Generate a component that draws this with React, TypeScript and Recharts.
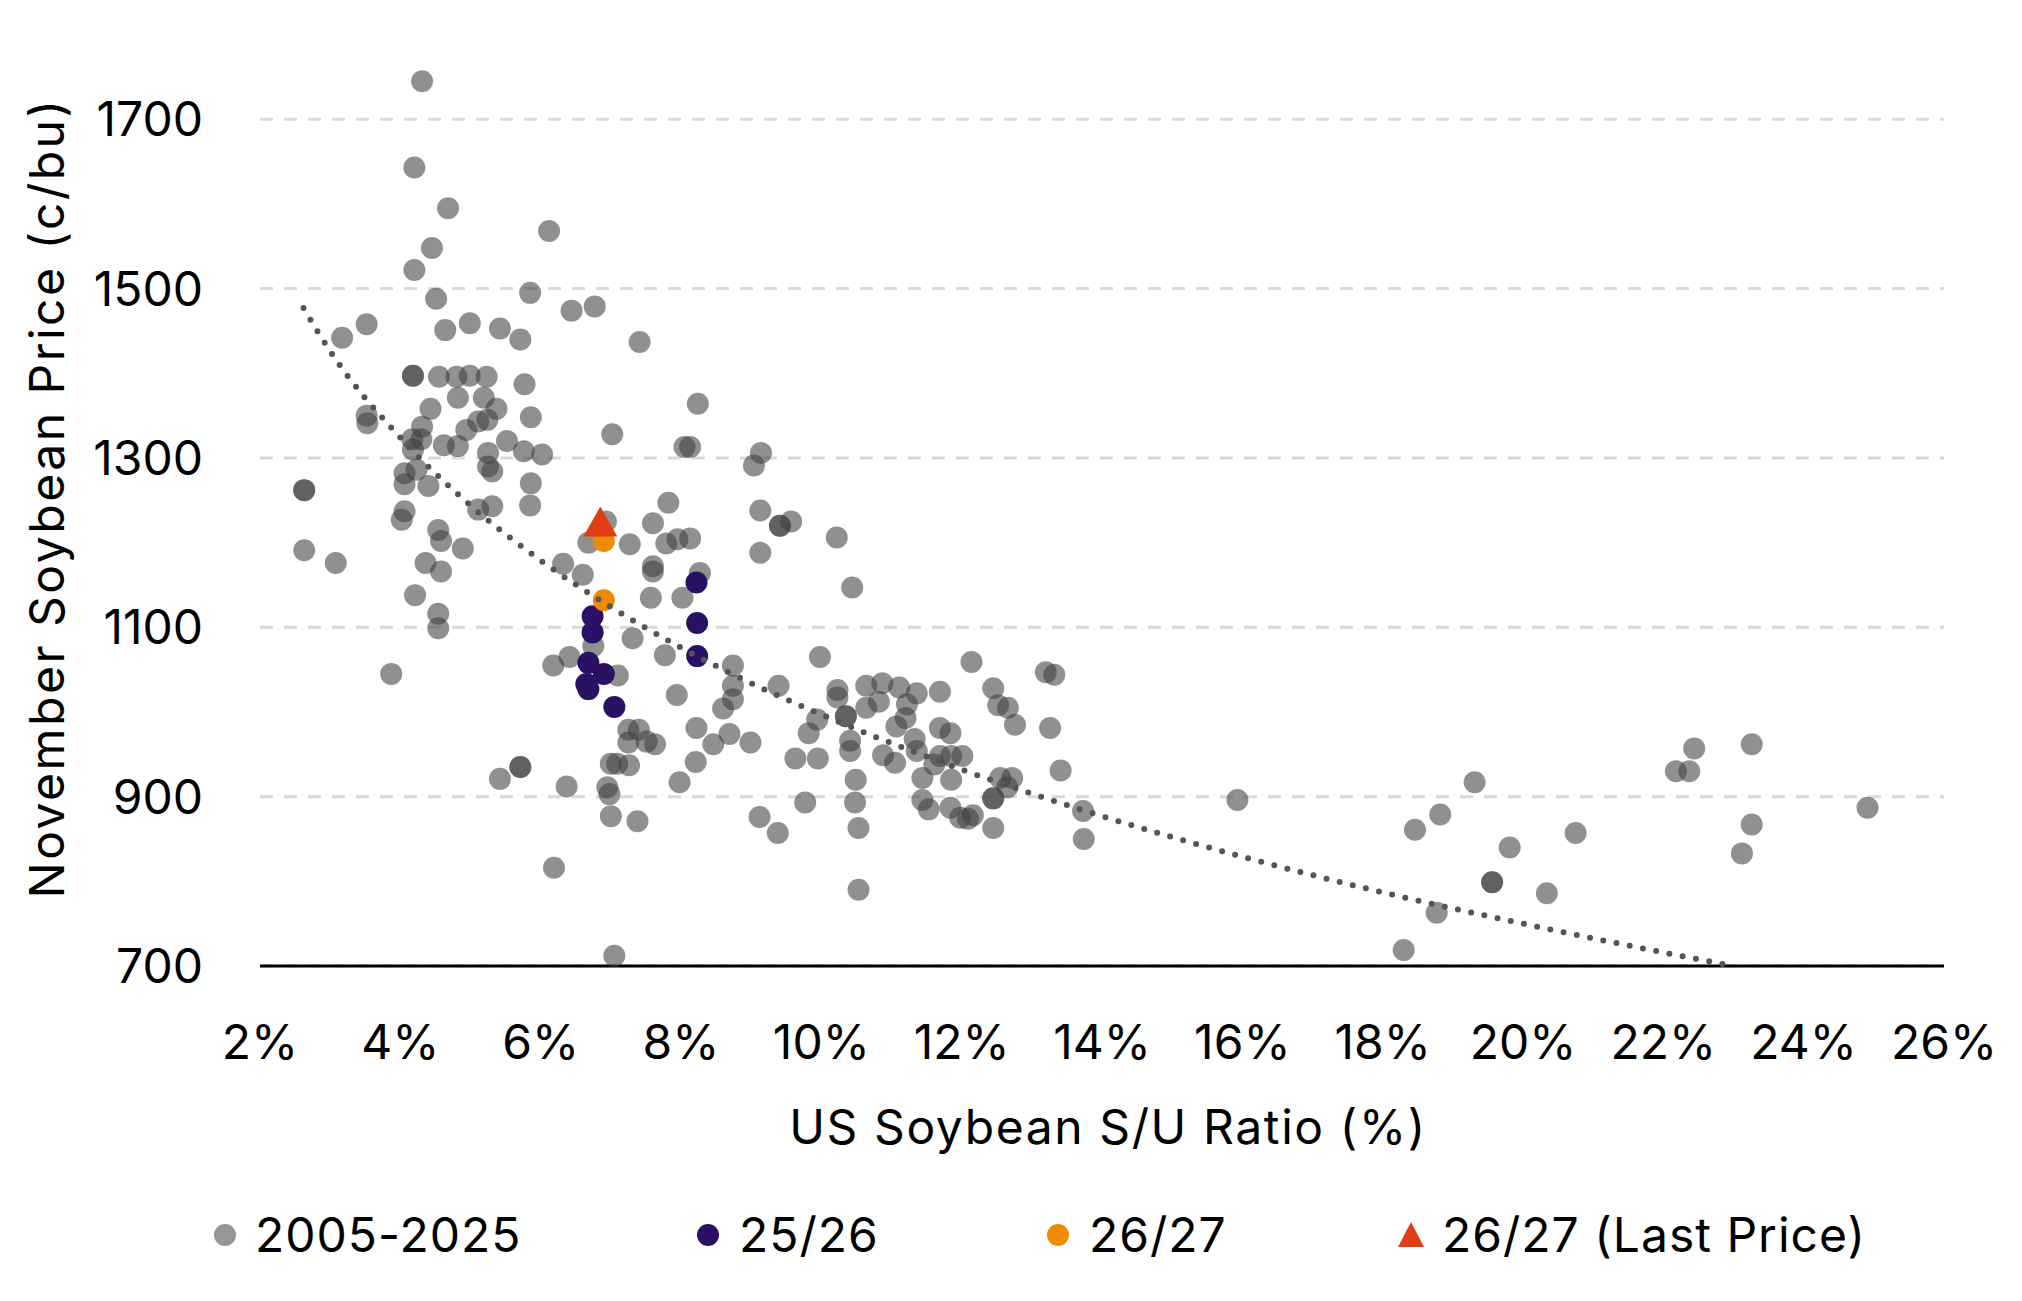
import React from "react";
import {
  ScatterChart,
  Scatter,
  XAxis,
  YAxis,
  CartesianGrid,
} from "recharts";

// US soybean stocks-to-use (%) vs November soybean price (c/bu)
const history2005to2025: [number, number][] = [
  [4.31, 1745], [4.2, 1643], [4.68, 1595], [6.12, 1568], [4.45, 1548], [4.2, 1522],
  [4.51, 1488], [5.85, 1495], [6.44, 1474], [6.77, 1479], [3.17, 1442], [3.52, 1458],
  [4.64, 1451], [4.99, 1459], [5.42, 1453], [5.71, 1440], [7.41, 1437], [4.18, 1397],
  [4.18, 1397], [4.55, 1396], [4.8, 1396], [4.99, 1397], [5.23, 1396], [5.77, 1387],
  [4.82, 1371], [5.19, 1371], [5.37, 1358], [4.43, 1358], [5.86, 1348], [8.24, 1364],
  [3.52, 1350], [3.53, 1341], [4.31, 1337], [4.17, 1322], [4.3, 1322], [4.94, 1333],
  [5.11, 1343], [5.24, 1345], [4.62, 1315], [4.82, 1314], [5.52, 1320], [5.76, 1308],
  [6.02, 1304], [5.25, 1306], [7.02, 1328], [8.05, 1313], [8.13, 1313], [9.14, 1306],
  [9.04, 1291], [4.18, 1310],
  [2.63, 1262], [2.63, 1262], [4.06, 1282], [4.23, 1286], [4.06, 1269], [4.4, 1267],
  [4.06, 1237], [4.02, 1227], [4.54, 1215], [4.58, 1202], [4.89, 1193], [2.63, 1191],
  [3.08, 1176], [4.36, 1176], [4.58, 1166], [4.21, 1138], [4.54, 1116], [4.54, 1099],
  [3.87, 1045], [5.25, 1290], [5.31, 1284], [5.86, 1270], [5.85, 1244], [5.11, 1239],
  [5.31, 1243], [9.13, 1238], [9.13, 1188], [7.82, 1247], [7.6, 1223], [6.93, 1225],
  [6.68, 1200], [7.27, 1198], [7.79, 1199], [7.95, 1204], [8.13, 1205], [7.6, 1172],
  [7.6, 1166], [8.27, 1164], [7.57, 1135], [8.02, 1135], [6.32, 1175], [6.6, 1162],
  [6.75, 1078], [6.41, 1065], [6.18, 1055], [7.1, 1043], [7.31, 1087], [7.77, 1067],
  [8.74, 1055], [8.74, 1031], [8.74, 1015], [8.6, 1004], [7.94, 1020], [8.22, 981],
  [8.46, 962], [8.69, 974], [8.99, 964], [7.25, 979], [7.4, 979], [7.25, 964],
  [7.51, 965], [7.63, 962], [7.0, 939], [7.09, 939], [7.26, 937], [8.21, 941],
  [7.98, 917], [5.71, 935], [5.71, 935], [5.42, 921], [6.37, 912], [6.95, 911],
  [6.98, 903], [7.0, 877], [7.38, 871], [9.12, 876], [6.19, 816], [7.05, 712],
  [9.41, 1220], [9.41, 1220], [9.57, 1225], [10.22, 1206], [10.44, 1147], [9.98, 1065],
  [9.39, 1031], [10.23, 1026], [10.23, 1017], [10.64, 1031], [10.87, 1034], [11.11, 1029],
  [11.36, 1022], [11.69, 1024], [12.14, 1059], [12.45, 1028], [12.52, 1008], [12.66, 1005],
  [12.76, 985], [13.2, 1047], [13.32, 1044], [13.26, 981], [13.41, 931], [10.82, 1012],
  [10.64, 1005], [11.22, 1009], [11.2, 993], [11.07, 983], [10.35, 995], [10.35, 995],
  [9.94, 991], [9.82, 975], [10.41, 966], [10.41, 954], [9.63, 945], [9.95, 945],
  [10.49, 920], [11.69, 981], [11.84, 975], [11.33, 968], [11.36, 954], [10.88, 949],
  [11.05, 940], [11.61, 938], [11.69, 948], [11.85, 948], [12.01, 948], [11.44, 922],
  [11.85, 920], [12.55, 922], [12.72, 922], [12.65, 911], [12.45, 898], [12.45, 898],
  [9.77, 893], [10.48, 893], [11.44, 896],
  [9.38, 857], [10.53, 863], [10.53, 790], [11.53, 885], [11.84, 887], [11.98, 875],
  [12.09, 874], [12.16, 878], [12.45, 863], [13.73, 883], [13.74, 850], [15.93, 896],
  [18.3, 719], [18.46, 861], [18.82, 879], [18.77, 763], [19.31, 917], [19.81, 840],
  [19.56, 799], [19.56, 799], [20.34, 786], [20.75, 857], [22.44, 957], [22.18, 930],
  [22.37, 930], [23.26, 962], [23.26, 867], [23.12, 833], [24.91, 887],
];

const season2526: [number, number][] = [
  [8.22, 1153], [6.74, 1113], [6.74, 1094], [8.23, 1105], [8.23, 1066],
  [6.68, 1058], [6.9, 1045], [6.65, 1033], [6.68, 1027], [7.05, 1006],
];

const season2627: [number, number][] = [
  [6.9, 1202], [6.9, 1132],
];

const season2627Last: [number, number][] = [[6.85, 1219]];

// dotted trend line
const trendRatio = [2.62, 3, 4, 5, 6, 7, 8, 9, 10, 12, 14, 16, 18, 20, 22, 23];
const trendPrice = [1477, 1426, 1324, 1244, 1179, 1124, 1076, 1034, 997, 932, 877, 829, 787, 750, 716, 700];

const xTicks = [2, 4, 6, 8, 10, 12, 14, 16, 18, 20, 22, 24, 26];
const yTicks = [700, 900, 1100, 1300, 1500, 1700];

const FONT = "Inter, 'Open Sans', sans-serif";
const FS = 48;

const GRAY = "#3f3f3f";
const PURPLE = "#2a1163";
const ORANGE = "#ef8b00";
const RED = "#e03d17";

const toPoints = (rows: [number, number][]) => rows.map(([x, y]) => ({ x, y }));

const grayDot = (p: any) => (
  <circle cx={p.cx} cy={p.cy} r={11} fill={GRAY} fillOpacity={0.58} />
);
const purpleDot = (p: any) => <circle cx={p.cx} cy={p.cy} r={11} fill={PURPLE} />;
const orangeDot = (p: any) => <circle cx={p.cx} cy={p.cy} r={11} fill={ORANGE} />;
const triangle = (p: any) => (
  <polygon
    points={`${p.cx},${p.cy - 20} ${p.cx - 17},${p.cy + 10} ${p.cx + 17},${p.cy + 10}`}
    fill={RED}
  />
);

const legendItems = [
  { label: "2005-2025", marker: "gray", cx: 225, textX: 255 },
  { label: "25/26", marker: "purple", cx: 708, textX: 739 },
  { label: "26/27", marker: "orange", cx: 1058, textX: 1089 },
  { label: "26/27 (Last Price)", marker: "tri", cx: 1411, textX: 1442 },
];

export default function App() {
  const trend = trendRatio.map((x, i) => ({ x, y: trendPrice[i] }));

  return (
    <div
      style={{
        position: "absolute",
        left: 0,
        top: 0,
        width: 2022,
        height: 1301,
        background: "#fff",
        fontFamily: FONT,
        color: "#000",
      }}
    >
      <ScatterChart
        width={2022}
        height={1301}
        margin={{ top: 34.6, right: 78, left: 0, bottom: 255 }}
      >
        <CartesianGrid
          horizontal
          vertical={false}
          horizontalValues={yTicks}
          stroke="#d9d9d9"
          strokeWidth={3}
          strokeDasharray="13 11"
        />
        <XAxis
          type="number"
          dataKey="x"
          domain={[2, 26]}
          ticks={xTicks}
          interval={0}
          tickFormatter={(v) => `${v}%`}
          axisLine={{ stroke: "#000", strokeWidth: 3 }}
          tickLine={false}
          tickSize={0}
          tickMargin={58.5}
          height={80}
          tick={{ fill: "#000", fontSize: FS, fontFamily: FONT }}
        />
        <YAxis
          type="number"
          dataKey="y"
          domain={[700, 1800]}
          ticks={yTicks}
          interval={0}
          axisLine={false}
          tickLine={false}
          tickSize={0}
          tickMargin={57}
          width={260}
          tick={{ fill: "#000", fontSize: FS, fontFamily: FONT }}
        />
        <Scatter data={toPoints(history2005to2025)} shape={grayDot} isAnimationActive={false} />
        <Scatter data={toPoints(season2526)} shape={purpleDot} isAnimationActive={false} />
        <Scatter data={toPoints(season2627)} shape={orangeDot} isAnimationActive={false} />
        <Scatter data={toPoints(season2627Last)} shape={triangle} isAnimationActive={false} />
        <Scatter
          data={trend}
          shape={() => <g />}
          line={{
            stroke: "#555555",
            strokeWidth: 6,
            strokeDasharray: "0 13.5",
            strokeLinecap: "round",
          }}
          lineJointType="monotoneX"
          isAnimationActive={false}
        />
      </ScatterChart>

      <div
        style={{
          position: "absolute",
          left: 47,
          top: 498,
          transform: "translate(-50%, -50%) rotate(-90deg)",
          whiteSpace: "nowrap",
          fontSize: FS,
          letterSpacing: 2.5,
          lineHeight: 1,
        }}
      >
        November Soybean Price (c/bu)
      </div>
      <div
        style={{
          position: "absolute",
          left: 1108,
          top: 1127,
          transform: "translate(-50%, -50%)",
          whiteSpace: "nowrap",
          fontSize: FS,
          letterSpacing: 1.6,
          lineHeight: 1,
        }}
      >
        US Soybean S/U Ratio (%)
      </div>

      {legendItems.map((item) => (
        <React.Fragment key={item.label}>
          <svg
            width={40}
            height={40}
            style={{ position: "absolute", left: item.cx - 20, top: 1235 - 20 }}
          >
            {item.marker === "gray" && <circle cx={20} cy={20} r={11} fill={GRAY} fillOpacity={0.55} />}
            {item.marker === "purple" && <circle cx={20} cy={20} r={11} fill={PURPLE} />}
            {item.marker === "orange" && <circle cx={20} cy={20} r={11} fill={ORANGE} />}
            {item.marker === "tri" && <polygon points="20,7 7,32 33,32" fill={RED} />}
          </svg>
          <div
            style={{
              position: "absolute",
              left: item.textX,
              top: 1235,
              transform: "translateY(-50%)",
              whiteSpace: "nowrap",
              fontSize: FS,
              letterSpacing: 1,
              lineHeight: 1,
            }}
          >
            {item.label}
          </div>
        </React.Fragment>
      ))}
    </div>
  );
}
